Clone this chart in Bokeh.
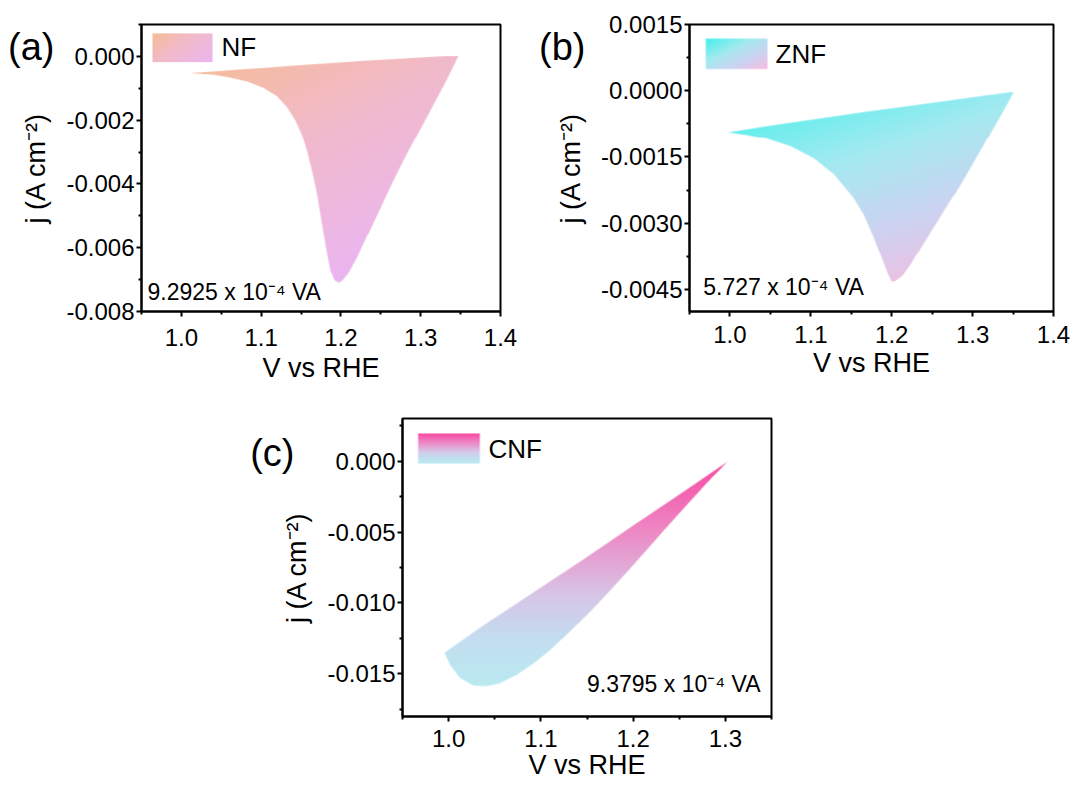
import numpy as np
from bokeh.plotting import figure
from bokeh.models import (Range1d, FixedTicker, PrintfTickFormatter, Label, LinearAxis,
                          CustomJSTickFormatter)
from bokeh.layouts import column, row
from bokeh.embed import file_html
from bokeh.resources import INLINE

FONT = "Liberation Sans"

# ---------------- data ----------------
# (a) NF cyclic voltammogram (closed loop)
V_nf = [1.0106, 1.0407, 1.0720, 1.1033, 1.1451, 1.1869, 1.2287, 1.2705, 1.3122, 1.3478,
        1.3310, 1.3143, 1.2976, 1.2809, 1.2642, 1.2475, 1.2329, 1.2203, 1.2099, 1.2015, 1.1973,
        1.1919, 1.1869, 1.1827, 1.1785, 1.1744, 1.1694, 1.1639, 1.1577, 1.1514, 1.1430, 1.1326,
        1.1200, 1.1033, 1.0824, 1.0616, 1.0407]
j_nf = [-0.00055, -0.00050, -0.00044, -0.00039, -0.00031, -0.00024, -0.00017, -0.00011, -0.00005, 0.0,
        -0.00083, -0.00161, -0.00238, -0.00316, -0.00399, -0.00487, -0.00564, -0.00631, -0.00678, -0.00704, -0.00710,
        -0.00702, -0.00673, -0.00621, -0.00559, -0.00497, -0.00425, -0.00362, -0.00300, -0.00249, -0.00202, -0.00161,
        -0.00127, -0.00101, -0.00081, -0.00069, -0.00060]

# (b) ZNF
V_znf = [0.9979, 1.0414, 1.1035, 1.1656, 1.2277, 1.2899, 1.3511,
         1.3354, 1.3188, 1.3023, 1.2857, 1.2692, 1.2526, 1.2360, 1.2236, 1.2133, 1.2050, 1.2000,
         1.1954, 1.1884, 1.1781, 1.1656, 1.1491, 1.1284, 1.1035, 1.0745, 1.0455, 1.0207]
j_znf = [-0.000949, -0.000823, -0.000660, -0.000497, -0.000349, -0.000193, -0.000045,
         -0.000564, -0.001082, -0.001601, -0.002119, -0.002601, -0.003082, -0.003564, -0.003934, -0.004193,
         -0.004304, -0.004327,
         -0.004156, -0.003823, -0.003341, -0.002823, -0.002341, -0.001897, -0.001540, -0.001270, -0.001100,
         -0.001010]

# (c) CNF
V_cnf = [0.9956, 1.0380, 1.0923, 1.1466, 1.2008, 1.2551, 1.3022,
         1.2805, 1.2588, 1.2370, 1.2153, 1.1936, 1.1719, 1.1502, 1.1285, 1.1104, 1.0923, 1.0742,
         1.0561, 1.0416, 1.0271, 1.0126, 1.0018]
j_cnf = [-0.01350, -0.01157, -0.00924, -0.00691, -0.00451, -0.00214, -0.00005,
         -0.00150, -0.00305, -0.00462, -0.00622, -0.00780, -0.00935, -0.01083, -0.01220, -0.01330, -0.01425,
         -0.01505, -0.01565, -0.01587, -0.01582, -0.01530, -0.01440]

series_names = ["NF", "ZNF", "CNF"]
areas = ["9.2925 x 10\u207b\u2074 VA", "5.727 x 10\u207b\u2074 VA", "9.3795 x 10\u207b\u2074 VA"]
panel_tags = ["(a)", "(b)", "(c)"]

x_ticks_ab = [1.0, 1.1, 1.2, 1.3, 1.4]
x_ticks_c = [1.0, 1.1, 1.2, 1.3]
x_minor = [0.95, 1.05, 1.15, 1.25, 1.35]
y_ticks_a = [-0.008, -0.006, -0.004, -0.002, 0.0]
y_minor_a = [-0.007, -0.005, -0.003, -0.001, 0.001]
y_ticks_b = [-0.0045, -0.003, -0.0015, 0.0, 0.0015]
y_minor_b = [-0.00375, -0.00225, -0.00075, 0.00075]
y_ticks_c = [-0.015, -0.010, -0.005, 0.0]
y_minor_c = [-0.0175, -0.0125, -0.0075, -0.0025, 0.0025]

# gradient colour stops (style)
stops_nf = [(0.0, (245, 187, 148)), (0.45, (241, 186, 202)), (1.0, (234, 181, 240))]
stops_znf = [(0.0, (64, 240, 234)), (0.4, (165, 233, 240)), (0.7, (205, 210, 240)), (1.0, (248, 186, 222))]
stops_cnf = [(0.0, (246, 72, 162)), (0.3, (238, 135, 195)), (0.6, (214, 198, 230)),
             (0.8, (194, 222, 240)), (1.0, (186, 234, 240))]


# ---------------- helpers ----------------
def point_in_poly(px, py, vx, vy):
    inside = np.zeros(px.shape, dtype=bool)
    n = len(vx)
    j = n - 1
    for i in range(n):
        xi, yi, xj, yj = vx[i], vy[i], vx[j], vy[j]
        if yi != yj:
            cross = (yi > py) != (yj > py)
            xint = (xj - xi) * (py - yi) / (yj - yi) + xi
            inside ^= cross & (px < xint)
        j = i
    return inside


def gradient_image(sx, sy, stops, wu, wv, ss=3):
    sx = np.asarray(sx, float)
    sy = np.asarray(sy, float)
    x0, x1 = np.floor(sx.min()), np.ceil(sx.max())
    y0, y1 = np.floor(sy.min()), np.ceil(sy.max())
    W, H = int(x1 - x0), int(y1 - y0)
    gx = x0 + (np.arange(W * ss) + 0.5) / ss
    gy = y0 + (np.arange(H * ss) + 0.5) / ss
    GX, GY = np.meshgrid(gx, gy)
    m = point_in_poly(GX.ravel(), GY.ravel(), sx, sy).reshape(H * ss, W * ss)
    alpha = m.reshape(H, ss, W, ss).mean(axis=(1, 3))
    CX, CY = np.meshgrid(x0 + np.arange(W) + 0.5, y0 + np.arange(H) + 0.5)
    u = (CX - sx.min()) / (sx.max() - sx.min())
    v = (CY - sy.min()) / (sy.max() - sy.min())
    t = np.clip(wu * u + wv * v, 0, 1)
    pos = [s[0] for s in stops]
    img = np.zeros((H, W), dtype=np.uint32)
    view = img.view(dtype=np.uint8).reshape((H, W, 4))
    for k in range(3):
        view[..., k] = np.round(np.interp(t, pos, [s[1][k] for s in stops])).astype(np.uint8)
    view[..., 3] = np.round(alpha * 255).astype(np.uint8)
    return np.ascontiguousarray(np.flipud(img)), x0, x1, y0, y1


def build_panel(V, J, xr, yr, fig_w, fig_h, borders, frame_page, xt, yt, ymin, yfmt,
                stops, wdir, sw_rect, sw_dir, name, name_xy, area, area_xy, area_align,
                tag, tag_y, tag_standoff, x_std, x_lab_std):
    bl, br, bt, bb = borders
    fl, ft, fw, fh = frame_page
    p = figure(width=fig_w, height=fig_h, x_range=Range1d(*xr), y_range=Range1d(*yr),
               output_backend="svg", toolbar_location=None,
               min_border_left=bl, min_border_right=br, min_border_top=bt, min_border_bottom=bb)
    p.grid.visible = False
    p.outline_line_color = "black"
    p.outline_line_width = 2
    p.background_fill_color = "white"
    p.border_fill_color = "white"

    dx = xr[1] - xr[0]
    dy = yr[1] - yr[0]

    # transparent outline patch carrying the data
    p.patch(V, J, fill_alpha=0.0, line_alpha=0.0)

    # gradient fill of the loop
    sx = (np.asarray(V) - xr[0]) / dx * fw
    sy = (yr[1] - np.asarray(J)) / dy * fh
    img, x0, x1, y0, y1 = gradient_image(sx, sy, stops, *wdir)
    p.image_rgba(image=[img], x=xr[0] + x0 / fw * dx, y=yr[1] - y1 / fh * dy,
                 dw=(x1 - x0) / fw * dx, dh=(y1 - y0) / fh * dy)

    def to_data(X, Y):
        return xr[0] + (X - fl) / fw * dx, yr[1] - (Y - ft) / fh * dy

    # legend swatch (gradient rectangle)
    X0, X1, Y0, Y1 = sw_rect
    rx = np.array([X0, X1, X1, X0]) - fl
    ry = np.array([Y0, Y0, Y1, Y1]) - ft
    simg, a0, a1, b0, b1 = gradient_image(rx, ry, stops, *sw_dir)
    p.image_rgba(image=[simg], x=xr[0] + a0 / fw * dx, y=yr[1] - b1 / fh * dy,
                 dw=(a1 - a0) / fw * dx, dh=(b1 - b0) / fh * dy)

    nx, ny = to_data(*name_xy)
    p.add_layout(Label(x=nx, y=ny, text=name, text_font=FONT, text_font_size="26px",
                       text_baseline="middle", text_align="left", text_color="black"))
    ax_, ay_ = to_data(*area_xy)
    p.add_layout(Label(x=ax_, y=ay_, text=area, text_font=FONT, text_font_size="23px",
                       text_baseline="middle", text_align=area_align, text_color="black"))

    p.xaxis.ticker = FixedTicker(ticks=xt, minor_ticks=x_minor)
    p.yaxis.ticker = FixedTicker(ticks=yt, minor_ticks=ymin)
    p.xaxis.formatter = PrintfTickFormatter(format="%.1f")
    p.yaxis.formatter = PrintfTickFormatter(format=yfmt)
    p.xaxis.axis_label = "V vs RHE"
    p.yaxis.axis_label = "j (A cm\u207b\u00b2)"
    for ax in p.axis:
        ax.axis_line_width = 2
        ax.axis_line_color = "black"
        ax.major_tick_line_width = 2
        ax.minor_tick_line_width = 2
        ax.major_tick_line_color = "black"
        ax.minor_tick_line_color = "black"
        ax.major_tick_out = 5
        ax.major_tick_in = 0
        ax.minor_tick_out = 3
        ax.minor_tick_in = 0
        ax.major_label_text_font = FONT
        ax.major_label_text_font_size = "24px"
        ax.major_label_text_color = "black"
        ax.axis_label_text_font = FONT
        ax.axis_label_text_font_size = "27px"
        ax.axis_label_text_font_style = "normal"
        ax.axis_label_text_color = "black"
    p.xaxis.major_label_standoff = x_std
    p.xaxis.axis_label_standoff = x_lab_std
    p.yaxis.major_label_standoff = 2
    p.yaxis.axis_label_standoff = 12

    # panel tag "(a)"/"(b)"/"(c)": drawn as the single label of a bare outer axis
    tag_val = to_data(fl, tag_y)[1]
    tag_axis = LinearAxis(ticker=FixedTicker(ticks=[tag_val], minor_ticks=[]),
                          formatter=CustomJSTickFormatter(code="return '%s'" % tag),
                          axis_line_color=None, major_tick_line_color=None,
                          minor_tick_line_color=None, major_tick_out=0, major_tick_in=0,
                          minor_tick_out=0, minor_tick_in=0,
                          major_label_standoff=tag_standoff, major_label_text_font=FONT,
                          major_label_text_font_size="38px", major_label_text_color="black")
    p.add_layout(tag_axis, "left")
    return p


pa = build_panel(V_nf, j_nf, (0.95, 1.4), (-0.008, 0.001), 520, 390, (141, 20, 21, 79),
                 (141, 21, 359, 290), x_ticks_ab, y_ticks_a, y_minor_a, "%.3f",
                 stops_nf, (0.45, 0.75), (152, 212, 30, 59), (0.6, 0.4),
                 series_names[0], (221, 44), areas[0], (147, 291), "left",
                 panel_tags[0], 44, -36, 12, 4)

pb = build_panel(V_znf, j_znf, (0.95, 1.4), (-0.005, 0.0015), 555, 390, (169, 22, 24, 74),
                 (689, 24, 364, 292), x_ticks_ab, y_ticks_b, y_minor_b, "%.4f",
                 stops_znf, (0.35, 0.7), (705.5, 767, 38.5, 69.5), (0.5, 0.5),
                 series_names[1], (775, 54), areas[1], (702.7, 291), "left",
                 panel_tags[1], 47, -32, 9, 2)

pc = build_panel(V_cnf, j_cnf, (0.95, 1.35), (-0.018, 0.003), 800, 397, (402, 29, 28, 71),
                 (402, 418, 369, 298), x_ticks_c, y_ticks_c, y_minor_c, "%.3f",
                 stops_cnf, (0.0, 1.0), (417.7, 479.3, 433, 463), (0.0, 1.0),
                 series_names[2], (488, 448), areas[2], (760, 683), "right",
                 panel_tags[2], 452, -15, 8, 0)

layout = column(row(pa, pb), pc)
open("out.html", "w").write(file_html(layout, INLINE))
